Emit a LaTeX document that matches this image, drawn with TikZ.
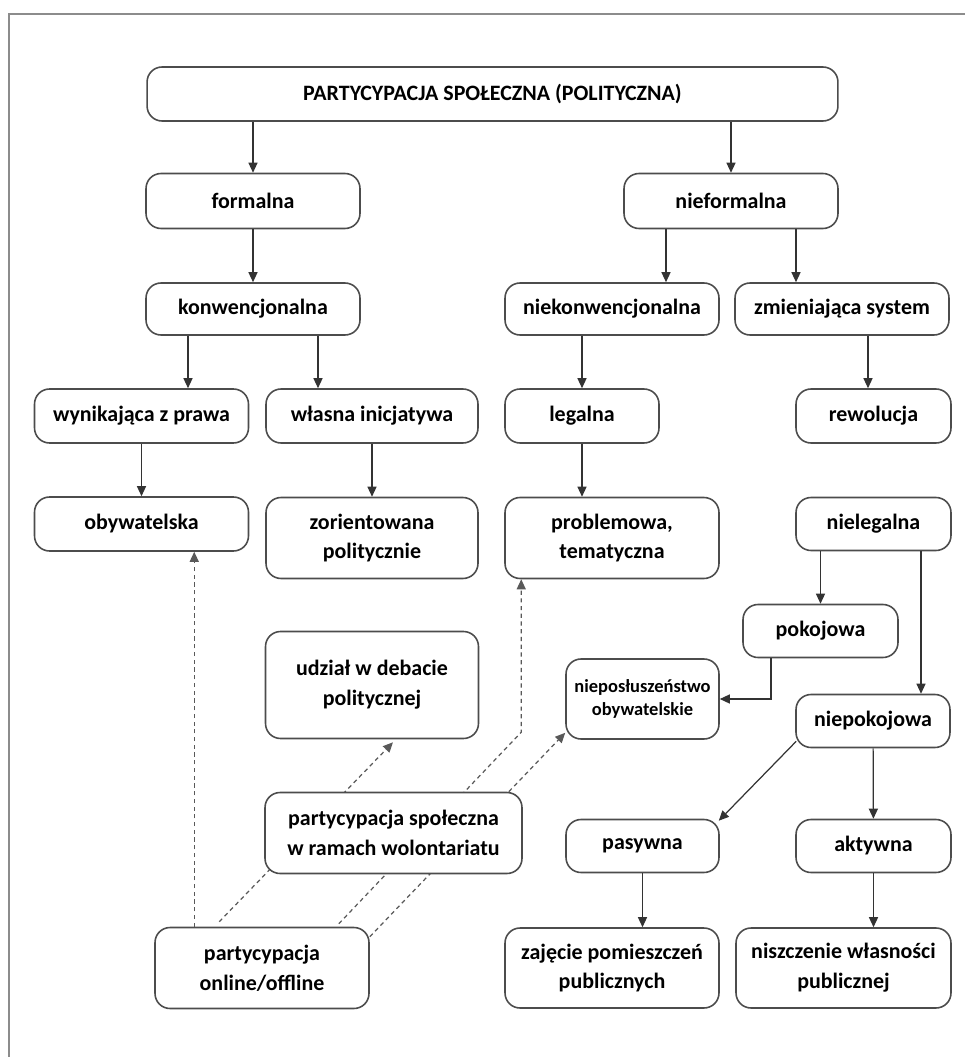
\documentclass[tikz,border=0pt]{standalone}
\usepackage{fontspec}
\setmainfont{Carlito}
\usetikzlibrary{calc,arrows.meta}

\begin{document}
\begin{tikzpicture}[x=0.02cm, y=0.02cm]
\tikzstyle{every node}+=[inner sep=0pt]
\tikzstyle{box}=[draw=black!70, line width=0.9pt, rounded corners=0.3cm, fill=white, align=center, font=\fontsize{12.5}{17}\selectfont\bfseries, minimum width=4.28cm, minimum height=1.08cm]
\tikzstyle{arr}=[draw=black!80, line width=0.7pt, -{Triangle[length=2mm,width=1.8mm]}]
\tikzstyle{dasharr}=[arr, draw=black!65, dash pattern=on 2.4pt off 2pt]
\useasboundingbox (0,0) rectangle (965,-1057);
\draw [black!45, line width=1.2pt] (9,-1057) -- (9,-14) -- (965,-14);
\node [box, minimum width=13.82cm] (top) at (492.5,-94) {PARTYCYPACJA SPOŁECZNA (POLITYCZNA)};
\node [box, minimum height=1.1cm] (formalna) at (253,-201) {formalna};
\node [box, minimum height=1.1cm] (nieformalna) at (731,-201) {nieformalna};
\node [box, minimum height=1.04cm] (konw) at (253,-309) {konwencjonalna};
\node [box, minimum height=1.04cm] (niekonw) at (612,-309) {niekonwencjonalna};
\node [box, minimum height=1.04cm] (zmien) at (842,-309) {zmieniająca system};
\node [box] (wynik) at (141.5,-416) {wynikająca z prawa};
\node [box, minimum width=4.24cm] (wlasna) at (372,-416) {własna inicjatywa};
\node [box, minimum width=3.08cm] (legalna) at (582,-416) {legalna};
\node [box, minimum width=3.1cm] (rewolucja) at (873.5,-416) {rewolucja};
\node [box] (obyw) at (141.5,-524) {obywatelska};
\node [box, minimum width=4.24cm, minimum height=1.62cm] (zorient) at (372,-538) {zorientowana\\politycznie};
\node [box, minimum height=1.62cm] (problem) at (612,-538) {problemowa,\\tematyczna};
\node [box, minimum width=3.1cm, minimum height=1.06cm] (nielegalna) at (873.5,-524) {nielegalna};
\node [box, minimum width=3.1cm, minimum height=1.06cm] (pokojowa) at (820.5,-631) {pokojowa};
\node [box, minimum width=3.06cm, minimum height=1.6cm, font=\fontsize{10.5}{13}\selectfont\bfseries] (nieposl) at (642.5,-699) {nieposłuszeństwo\\obywatelskie};
\node [box, minimum width=3.08cm, minimum height=1.06cm] (niepokojowa) at (873,-721) {niepokojowa};
\node [box, minimum width=4.26cm, minimum height=2.14cm] (udzial) at (372,-685) {udział w debacie\\politycznej};
\node [box, minimum width=3.06cm, minimum height=1.06cm] (pasywna) at (642.5,-846) {pasywna};
\node [box, minimum width=3.1cm, minimum height=1.06cm] (aktywna) at (873.5,-846) {aktywna};
\node [box, minimum height=1.62cm] (online) at (262,-968) {partycypacja\\online/offline};
\node [box, minimum height=1.6cm] (zajecie) at (612,-968) {zajęcie pomieszczeń\\publicznych};
\node [box, minimum width=4.3cm, minimum height=1.6cm] (niszcz) at (843.5,-968) {niszczenie własności\\publicznej};
\draw [arr] (top.south -| formalna) -- (formalna);
\draw [arr] (top.south -| nieformalna) -- (nieformalna);
\draw [arr] (formalna) -- (konw);
\coordinate (k1) at ($(konw.south)+(-65,0)$);
\coordinate (k2) at ($(konw.south)+(65,0)$);
\draw [arr] (k1) -- (k1 |- wynik.north);
\draw [arr] (k2) -- (k2 |- wlasna.north);
\coordinate (n1) at ($(nieformalna.south)+(-65,0)$);
\coordinate (n2) at ($(nieformalna.south)+(65,0)$);
\draw [arr] (n1) -- (n1 |- niekonw.north);
\draw [arr] (n2) -- (n2 |- zmien.north);
\draw [arr] (niekonw.south -| legalna) -- (legalna);
\coordinate (z1) at ($(zmien.south)+(26,0)$);
\draw [arr] (z1) -- (z1 |- rewolucja.north);
\draw [arr] (wynik) -- (obyw);
\draw [arr] (wlasna) -- (zorient);
\draw [arr] (legalna.south) -- (legalna.south |- problem.north);
\draw [arr] (nielegalna.south -| pokojowa) -- (pokojowa);
\coordinate (l1) at ($(nielegalna.south)+(47.5,0)$);
\draw [arr] (l1) -- (l1 |- niepokojowa.north);
\coordinate (p1) at ($(pokojowa.south)+(-49.5,0)$);
\draw [arr] (p1) |- (nieposl.east);
\draw [arr] ($(niepokojowa.south west)+(1,7)$) -- ($(pasywna.north east)+(-1,-2)$);
\draw [arr] (niepokojowa) -- (aktywna);
\draw [arr] (pasywna.south) -- (pasywna.south |- zajecie.north);
\draw [arr] (aktywna.south) -- (aktywna.south |- niszcz.north);
\coordinate (o1) at ($(online.north west)+(40,0)$);
\draw [dasharr] (o1) -- (o1 |- obyw.south);
\draw [dasharr] ($(online.north west)+(65,5)$) -- ($(udzial.south)+(21,-3)$);
\coordinate (bend) at ($(problem.south west)+(17,-153)$);
\draw [dasharr] ($(online.north east)+(-31,3)$) -- (bend) -- ($(problem.south west)+(17,0)$);
\draw [dasharr] ($(online.north east)+(0,-10)$) -- ($(nieposl.south west)+(0,7)$);
\node [box, minimum width=5.14cm, minimum height=1.62cm] (wolont) at (393.5,-833) {partycypacja społeczna\\w ramach wolontariatu};
\end{tikzpicture}
\end{document}
